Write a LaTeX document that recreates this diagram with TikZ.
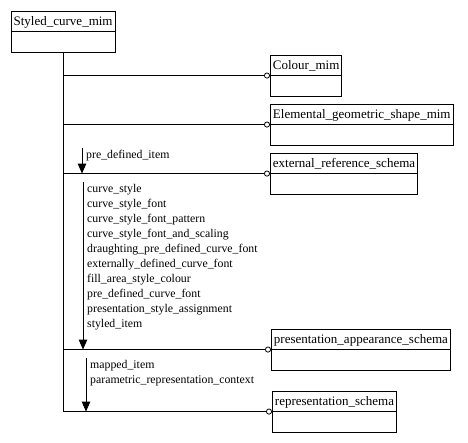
\documentclass[tikz,border=0pt]{standalone}
\usepackage{fontspec}
\setmainfont{Liberation Serif}
\usepackage{tikz}
\usetikzlibrary{
  arrows.meta,
  shapes.multipart
}
\newcommand{\bxstrut}{\rule[-5.5pt]{0pt}{19.6pt}}

\begin{document}
\begin{tikzpicture}[
      x=1pt, y=1pt,
      entity/.style={draw, line width=0.9pt, rectangle split, rectangle split parts=2,
                     anchor=north west, inner ysep=0pt, inner xsep=2.5pt,
                     align=left, font=\fontsize{13}{15}\selectfont},
      lbl/.style={anchor=north west, inner sep=2pt, align=left,
                  font=\fontsize{11.8}{15}\selectfont},
      trunk/.style={line width=0.9pt},
      link/.style={line width=0.9pt, -{Circle[open, length=6pt, line width=0.8pt]}},
      flow/.style={line width=0.9pt, -{Triangle[length=10pt, width=8.5pt]}}
  ]
      \useasboundingbox (0,0) rectangle (468,-442);

      % Entidades
      \node[entity] (scm) at (10.7,-10.7) {\bxstrut Styled\_curve\_mim\nodepart{two}\bxstrut};
      \node[entity] (col) at (270,-54.6)  {\bxstrut Colour\_mim\nodepart{two}\bxstrut};
      \node[entity] (egs) at (270,-103.6) {\bxstrut Elemental\_geometric\_shape\_mim\nodepart{two}\bxstrut};
      \node[entity] (ext) at (270,-152.6) {\bxstrut external\_reference\_schema\nodepart{two}\bxstrut};
      \node[entity] (pas) at (271,-328.6) {\bxstrut presentation\_appearance\_schema\nodepart{two}\bxstrut};
      \node[entity] (rep) at (272,-390.6) {\bxstrut representation\_schema\nodepart{two}\bxstrut};

      % Tronco e ligacoes
      \draw[trunk] (scm.south) -- (scm.south |- rep.one split west);
      \foreach \e in {col, egs, ext, pas, rep}
          \draw[link] (scm.south |- \e.one split west) -- (\e.one split west);

      % Itens importados
      \node[lbl] (pdi) at (84,-148) {pre\_defined\_item};
      \node[lbl] (cst) at (85,-182) {curve\_style\\
          curve\_style\_font\\
          curve\_style\_font\_pattern\\
          curve\_style\_font\_and\_scaling\\
          draughting\_pre\_defined\_curve\_font\\
          externally\_defined\_curve\_font\\
          fill\_area\_style\_colour\\
          pre\_defined\_curve\_font\\
          presentation\_style\_assignment\\
          styled\_item};
      \node[lbl] (map) at (88,-358) {mapped\_item\\
          parametric\_representation\_context};

      \coordinate (pdis) at ([xshift=-2pt]pdi.north west);
      \coordinate (csts) at ([xshift=-2pt]cst.north west);
      \coordinate (maps) at ([xshift=-2pt]map.north west);
      \draw[flow] (pdis) -- (pdis |- ext.one split west);
      \draw[flow] (csts) -- (csts |- pas.one split west);
      \draw[flow] (maps) -- (maps |- rep.one split west);
  \end{tikzpicture}
\end{document}
